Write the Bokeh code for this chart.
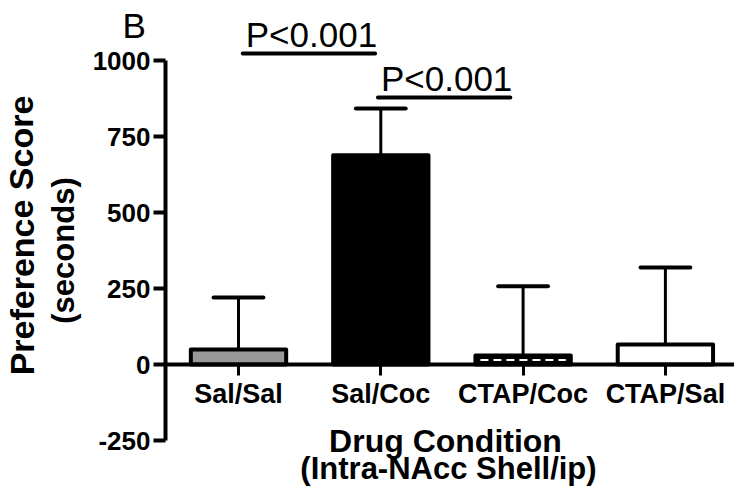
from bokeh.plotting import figure
from bokeh.models import Range1d, FixedTicker, Label, ColumnDataSource
from bokeh.core.properties import value
from bokeh.embed import file_html
from bokeh.resources import INLINE

# ---- data ----
categories = ["Sal/Sal", "Sal/Coc", "CTAP/Coc", "CTAP/Sal"]
means = [49, 688, 30, 66]
errors = [171, 154, 227, 253]
fills = ["#999999", "#000000", "#000000", "#ffffff"]
y_ticks = [-250, 0, 250, 500, 750, 1000]
y_tick_labels = ["-250", "0", "250", "500", "750", "1000"]
sig_x0 = [1.03, 1.98]
sig_x1 = [1.96, 2.91]
sig_y = [1023, 878]
sig_text = ["P<0.001", "P<0.001"]
panel_letter = "B"
y_title = ["Preference Score", "(seconds)"]
x_title = ["Drug Condition", "(Intra-NAcc Shell/ip)"]

FONT = "Liberation Sans"
W, H = 734, 487
PXU_X, PXU_Y = 142.3, 0.304      # pixels per data unit
AXIS_X = 0.487                    # where the y axis stands (data x)

xs = [i + 1 for i in range(len(categories))]
upper = [m + e for m, e in zip(means, errors)]

X0 = AXIS_X - 165 / PXU_X
X1 = X0 + W / PXU_X
Y1 = 364 / PXU_Y
Y0 = Y1 - H / PXU_Y

def dx(px):
    return X0 + px / PXU_X

def dy(py):
    return Y1 - py / PXU_Y

p = figure(width=W, height=H, output_backend="svg", toolbar_location=None,
           x_range=Range1d(X0, X1), y_range=Range1d(Y0, Y1),
           min_border_left=0, min_border_right=0, min_border_top=0, min_border_bottom=0)
p.outline_line_color = None
p.xgrid.visible = False
p.ygrid.visible = False

# y axis at a fixed location
ya = p.yaxis[0]
ya.fixed_location = AXIS_X
ya.bounds = (y_ticks[0], y_ticks[-1])
ya.ticker = FixedTicker(ticks=y_ticks)
ya.major_label_overrides = {t: s for t, s in zip(y_ticks, y_tick_labels)}
ya.axis_line_width = 4
ya.major_tick_line_width = 4
ya.major_tick_out = 12
ya.major_tick_in = 0
ya.minor_tick_line_color = None
ya.major_label_text_font = FONT
ya.major_label_text_font_style = "bold"
ya.major_label_text_font_size = "26px"
ya.major_label_text_color = "black"
ya.major_label_standoff = 3

# x axis crossing at zero
xa = p.xaxis[0]
xa.fixed_location = 0
xa.bounds = (AXIS_X, X1)
xa.ticker = FixedTicker(ticks=xs)
xa.major_label_overrides = {x: c for x, c in zip(xs, categories)}
xa.axis_line_width = 4
xa.major_tick_line_width = 3
xa.major_tick_out = 11
xa.major_tick_in = 0
xa.minor_tick_line_color = None
xa.major_label_text_font = FONT
xa.major_label_text_font_style = "bold"
xa.major_label_text_font_size = "27px"
xa.major_label_text_color = "black"
xa.major_label_standoff = 3

src = ColumnDataSource(dict(x=xs, mean=means, up=upper, fill=fills,
                            cl=[x - 0.175 for x in xs], cr=[x + 0.175 for x in xs]))

# error bars (upper only)
p.segment(x0="x", y0="mean", x1="x", y1="up", source=src, line_color="black", line_width=3)
p.segment(x0="cl", y0="up", x1="cr", y1="up", source=src, line_color="black", line_width=4,
          line_cap="round")

# bars
p.vbar(x="x", top="mean", bottom=0, width=0.67, source=src, fill_color="fill",
       line_color="black", line_width=4, line_join="round")

# dashed interior of the CTAP/Coc bar
dash_src = ColumnDataSource(dict(x0=[xs[2] - 0.30], x1=[xs[2] + 0.30], y=[means[2] / 2]))
p.segment(x0="x0", y0="y", x1="x1", y1="y", source=dash_src, line_color="white",
          line_width=2, line_dash="8 5")

# significance lines and texts
sig_src = ColumnDataSource(dict(x0=sig_x0, x1=sig_x1, y=sig_y, t=sig_text))
p.segment(x0="x0", y0="y", x1="x1", y1="y", source=sig_src, line_color="black",
          line_width=4, line_cap="round")
p.text(x="x0", y="y", text="t", source=sig_src, text_align="left",
       text_baseline="alphabetic", x_offset=3, y_offset=-19, text_font=value(FONT),
       text_font_size="35px", text_color="black")

# panel letter
p.add_layout(Label(x=dx(122), y=dy(25), text=panel_letter, text_font=FONT,
                   text_font_size="35px", text_align="left", text_baseline="alphabetic",
                   text_color="black"))

# y axis title (two lines)
p.add_layout(Label(x=dx(21), y=dy(235), text=y_title[0], angle=1.5708, text_font=FONT,
                   text_font_style="bold", text_font_size="34px", text_align="center",
                   text_baseline="middle", text_color="black"))
p.add_layout(Label(x=dx(63), y=dy(250), text=y_title[1], angle=1.5708, text_font=FONT,
                   text_font_style="bold", text_font_size="31px", text_align="center",
                   text_baseline="middle", text_color="black"))

# x axis title (two lines)
p.add_layout(Label(x=dx(445), y=dy(440), text=x_title[0], text_font=FONT,
                   text_font_style="bold", text_font_size="32px", text_align="center",
                   text_baseline="alphabetic", text_color="black"))
p.add_layout(Label(x=dx(448), y=dy(468), text=x_title[1], text_font=FONT,
                   text_font_style="bold", text_font_size="31px", text_align="center",
                   text_baseline="alphabetic", text_color="black"))

open("out.html", "w").write(file_html(p, INLINE))
